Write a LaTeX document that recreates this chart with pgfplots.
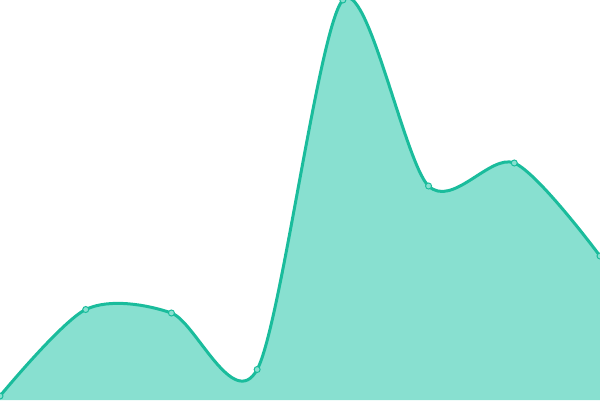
\documentclass[border=0pt]{standalone}
\usepackage{pgfplots}
\pgfplotsset{compat=1.18}
\definecolor{linec}{HTML}{1ABC9C}
\definecolor{fillc}{HTML}{88E0D0}
\begin{document}
\begin{tikzpicture}
\begin{axis}[
  name=ax,
  scale only axis, width=600pt, height=400pt,
  hide axis, xmin=0, xmax=7, ymin=0, ymax=400,
  clip=true, clip marker paths=true,
]
\addplot[draw=none, fill=fillc, smooth, tension=0.5] coordinates {
(0,4) (1,90.5) (2,87) (3,30.5) (4,400) (5,214) (6,237) (7,144)
} \closedcycle;
\addplot[linec, line width=3pt, smooth, tension=0.5, mark=*, mark size=3pt,
  mark options={fill=fillc, draw=linec, line width=1pt}] coordinates {
(0,4) (1,90.5) (2,87) (3,30.5) (4,400) (5,214) (6,237) (7,144)
};
\end{axis}
\pgfresetboundingbox
\path (ax.south west) rectangle (ax.north east);
\end{tikzpicture}
\end{document}
